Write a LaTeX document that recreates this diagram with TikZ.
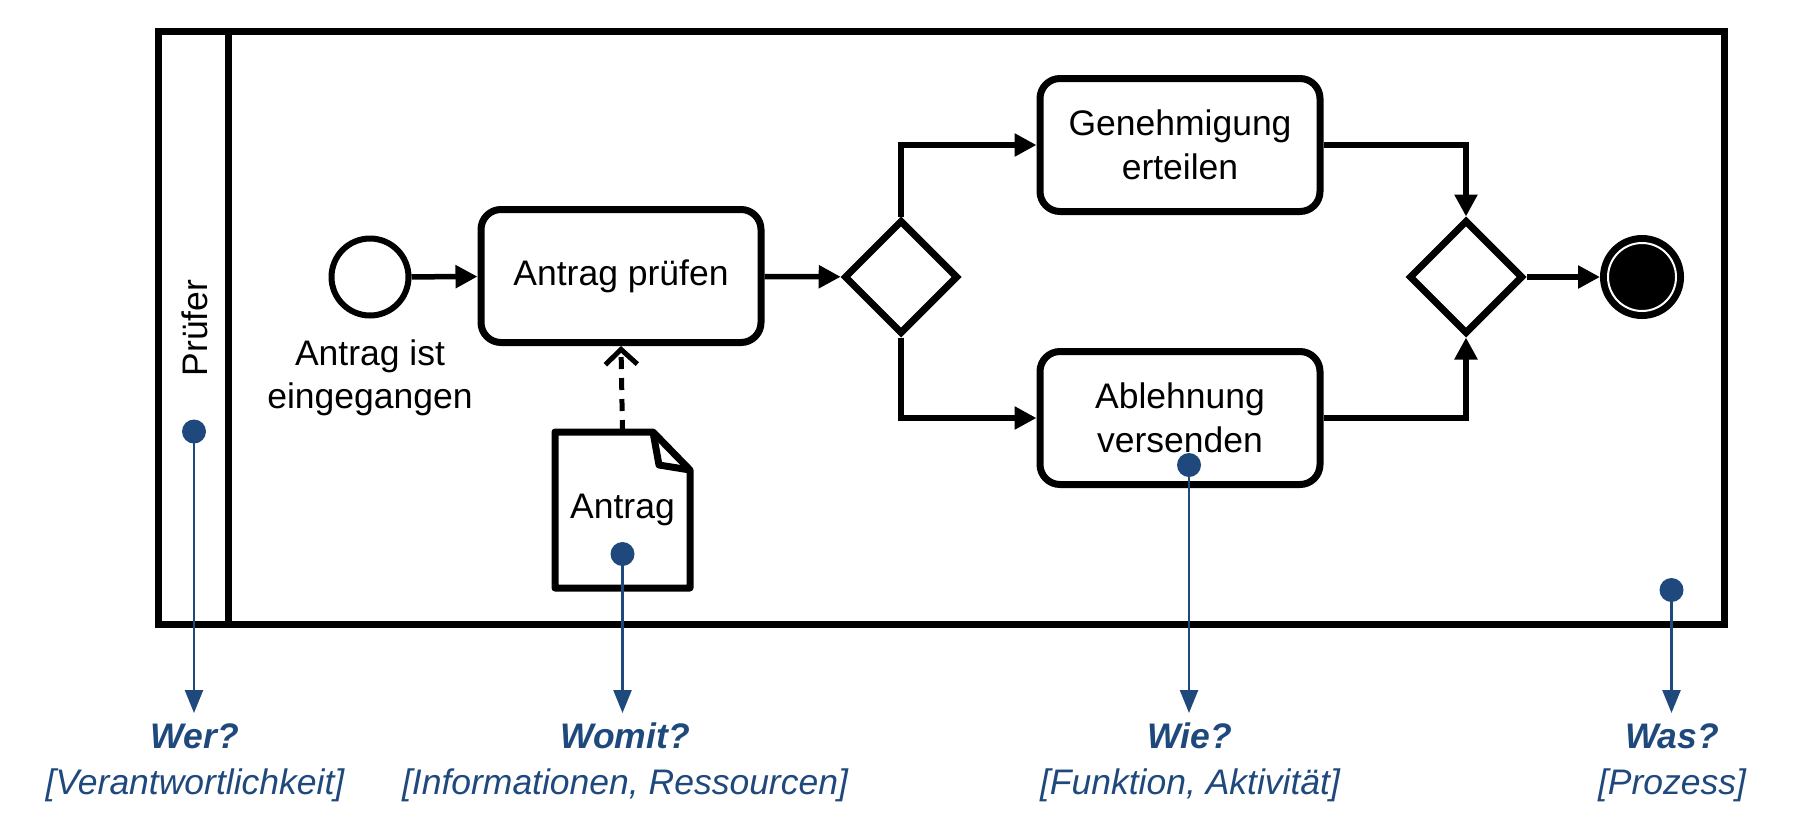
\documentclass[tikz,border=0pt]{standalone}
\usepackage{fontspec}
\setmainfont{Liberation Sans}
\usetikzlibrary{arrows.meta,shapes.geometric}
\definecolor{wblue}{RGB}{31,73,125}
\begin{document}
\begin{tikzpicture}[x=1pt,y=-1pt,font=\fontsize{35.5}{43.5}\selectfont,
  task/.style={draw,rounded corners=20pt,line width=7pt,minimum width=280pt,minimum height=133pt,align=center,inner sep=0pt},
  gate/.style={draw,diamond,line width=7pt,minimum size=114pt,inner sep=0pt},
  flow/.style={line width=5.5pt,-{Stealth[inset=0pt,length=22pt,width=22pt]}},
  dot/.style={circle,fill=wblue,minimum size=24pt,inner sep=0pt},
  ask/.style={text=wblue,align=center,anchor=north,inner sep=0pt,font=\fontsize{35.5}{46}\selectfont\itshape},
  hint/.style={wblue,line width=2.5pt,shorten >=10pt,-{Triangle[length=23pt,width=18pt]}}]
\useasboundingbox (0,0) rectangle (1796,836);
% pool and lane
\draw[line width=7pt] (158.5,31) rectangle (1724,624.5);
\draw[line width=7pt] (228.5,31) -- (228.5,624.5);
\node[rotate=90] (lane) at (195,328) {Prüfer};
% process
\node[circle,draw,line width=6pt,minimum size=77pt] (start) at (370,277) {};
\node[align=center] (startlbl) at (370,378) {Antrag ist\\eingegangen};
\node[task] (pruefen) at (621,276) {Antrag prüfen};
\node[gate] (gw1) at (901,277) {};
\node[task] (genehm) at (1180,145) {Genehmigung\\erteilen};
\node[task] (ablehn) at (1180,418) {Ablehnung\\versenden};
\node[gate] (gw2) at (1466,277) {};
\node[circle,draw,fill,line width=7pt,minimum size=77pt] (ende) at (1642,277) {};
\draw[white,line width=2pt] (ende.center) circle (34pt);
% document
\node[minimum width=135pt,minimum height=156pt,outer sep=0pt] (antrag) at (622.5,510) {Antrag};
\draw[line width=7pt,line join=round] (antrag.north west) -- ([xshift=-37pt]antrag.north east) -- ([yshift=-38pt]antrag.north east) -- (antrag.south east) -- (antrag.south west) -- cycle;
\draw[line width=7pt,line join=round] ([xshift=-37pt]antrag.north east) -- ++(6,33) -- ([yshift=-38pt]antrag.north east);
% flows
\draw[flow] (start) -- (pruefen);
\draw[flow] (pruefen) -- (gw1);
\draw[flow] (gw1.north) |- (genehm);
\draw[flow] (gw1.south) |- (ablehn);
\draw[flow] (genehm) -| (gw2.north);
\draw[flow] (ablehn) -| (gw2.south);
\draw[flow] (gw2) -- (ende);
\draw[line width=5pt,dash pattern=on 12pt off 9pt,-{Straight Barb[length=15pt,width=32pt]}] (antrag.north) -- (pruefen.south);
% questions
\node[dot] (d1) at (194,431.5) {};
\node[dot] (d2) at (622.5,554) {};
\node[dot] (d3) at (1189,465) {};
\node[dot] (d4) at (1671.5,590) {};
\node[ask] (wer) at (195,723) {\textbf{Wer?}\\{[Verantwortlichkeit]}};
\node[ask] (womit) at (625,723) {\textbf{Womit?}\\{[Informationen, Ressourcen]}};
\node[ask] (wie) at (1190,723) {\textbf{Wie?}\\{[Funktion, Aktivität]}};
\node[ask] (was) at (1672,723) {\textbf{Was?}\\{[Prozess]}};
\draw[hint] (d1.center) -- (d1 |- wer.north);
\draw[hint] (d2.center) -- (d2 |- womit.north);
\draw[hint] (d3.center) -- (d3 |- wie.north);
\draw[hint] (d4.center) -- (d4 |- was.north);
\end{tikzpicture}
\end{document}
